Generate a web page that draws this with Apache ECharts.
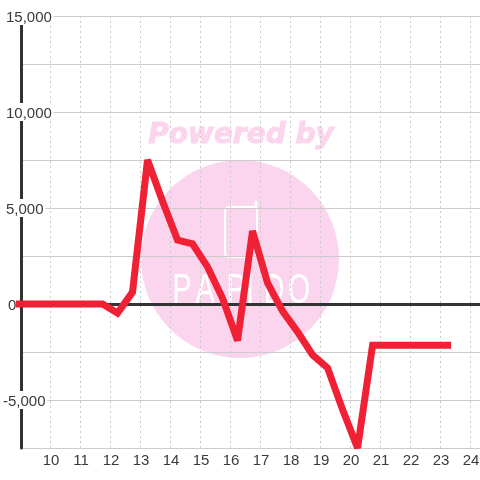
<!DOCTYPE html>
<html>
<head>
<meta charset="utf-8">
<style>
  html, body { margin: 0; padding: 0; background: #fff; }
  #chart { width: 480px; height: 480px; }
</style>
<script src="https://cdn.jsdelivr.net/npm/echarts@6/dist/echarts.min.js"></script>
</head>
<body>
<div id="chart"></div>
<script>
const hours = [8.75, 9.25, 9.75, 10.25, 10.75, 11.25, 11.75, 12.25, 12.75, 13.25, 13.75, 14.25, 14.75, 15.25, 15.75, 16.25, 16.75, 17.25, 17.75, 18.25, 18.75, 19.25, 19.75, 20.25, 20.75, 21.25, 21.75, 22.25, 22.75, 23.25]
const values = [0, 0, 0, 0, 0, 0, 0, -470, 620, 7500, 5350, 3330, 3130, 1930, 300, -1900, 3800, 1100, -370, -1450, -2650, -3330, -5500, -7500, -2150, -2150, -2150, -2150, -2150, -2150]
const yTickLabels = [-5000, 0, 5000, 10000, 15000]
const logoLetters = ['P', 'A', 'P', 'I', 'D', 'O']
const logoLetterX = [182, 205, 236, 250, 274, 299]

const fontFamily = '"Liberation Sans", Arial, sans-serif'
const labelColor = '#3a3a3a'
const pink = '#fbd5ee'

const chart = echarts.init(document.getElementById('chart'), null, { renderer: 'canvas' })

chart.setOption({
  animation: false,
  backgroundColor: '#fff',
  grid: { left: 20, right: 0, top: 16, bottom: 32, containLabel: false, outerBoundsMode: 'none' },
  graphic: [
    { type: 'circle', z: -10, shape: { cx: 240, cy: 259, r: 99 }, style: { fill: pink } },
    { type: 'rect', z: -9, shape: { x: 225, y: 207, width: 32, height: 50, r: 4 }, style: { fill: 'none', stroke: '#fff', lineWidth: 2 } },
    { type: 'line', z: -9, shape: { x1: 256, y1: 202, x2: 256, y2: 208 }, style: { stroke: '#fff', lineWidth: 3, lineCap: 'round' } },
    ...logoLetters.map((letter, i) => ({
      type: 'text',
      z: -9,
      x: logoLetterX[i],
      y: 291,
      scaleX: 0.68,
      style: { text: letter, align: 'center', verticalAlign: 'middle', fill: '#fff', font: '42px "Liberation Sans"' }
    })),
    { type: 'text', z: -9, style: { x: 241, y: 136, text: 'Powered by', align: 'center', verticalAlign: 'middle', fill: pink, stroke: pink, lineWidth: 1, font: 'italic bold 28px "DejaVu Sans"' } }
  ],
  xAxis: [{
    type: 'value',
    position: 'bottom',
    min: 9,
    max: 24.33,
    interval: 1,
    z: 0,
    axisLine: { show: false, onZero: false },
    axisTick: { show: false },
    axisLabel: {
      margin: 5,
      padding: [0, 0, 0, 2],
      color: labelColor,
      fontFamily,
      fontSize: 15,
      showMinLabel: false,
      formatter: (v) => (Number.isInteger(v) ? String(v) : '')
    },
    splitLine: { show: true, lineStyle: { color: '#ccc', type: [2, 3], width: 1 } }
  }, {
    type: 'value',
    min: 9,
    max: 24.33,
    interval: 1,
    z: 4,
    axisLine: { show: true, onZero: true, lineStyle: { color: '#333', width: 3 } },
    axisTick: { show: false },
    axisLabel: { show: false },
    splitLine: { show: false }
  }],
  yAxis: {
    type: 'value',
    min: -7500,
    max: 15000,
    interval: 2500,
    offset: -1,
    z: 3,
    axisLine: { show: true, onZero: false, lineStyle: { color: '#333', width: 3 } },
    axisTick: { show: false },
    axisLabel: {
      align: 'left',
      margin: 18,
      formatter: (v) => {
        if (!yTickLabels.includes(v)) return ''
        const text = echarts.format.addCommas(v)
        if (v < 0) return '{neg|' + text + '}'
        return (v === 0 ? '{zero|' : '{pos|') + text + '}'
      },
      rich: {
        neg: { color: labelColor, fontFamily, fontSize: 15, backgroundColor: '#fff', padding: [3, 2, 0, 0] },
        pos: { color: labelColor, fontFamily, fontSize: 15, backgroundColor: '#fff', padding: [3, 2, 0, 3] },
        zero: { color: labelColor, fontFamily, fontSize: 15, backgroundColor: '#fff', padding: [3, 2, 0, 5] }
      }
    },
    splitLine: { show: true, lineStyle: { color: '#ccc', width: 1 } }
  },
  series: [{
    type: 'line',
    data: hours.map((h, i) => [h, values[i]]),
    symbol: 'none',
    z: 5,
    lineStyle: { color: '#f02035', width: 7, join: 'miter', miterLimit: 3, cap: 'square' }
  }]
})
</script>
</body>
</html>
